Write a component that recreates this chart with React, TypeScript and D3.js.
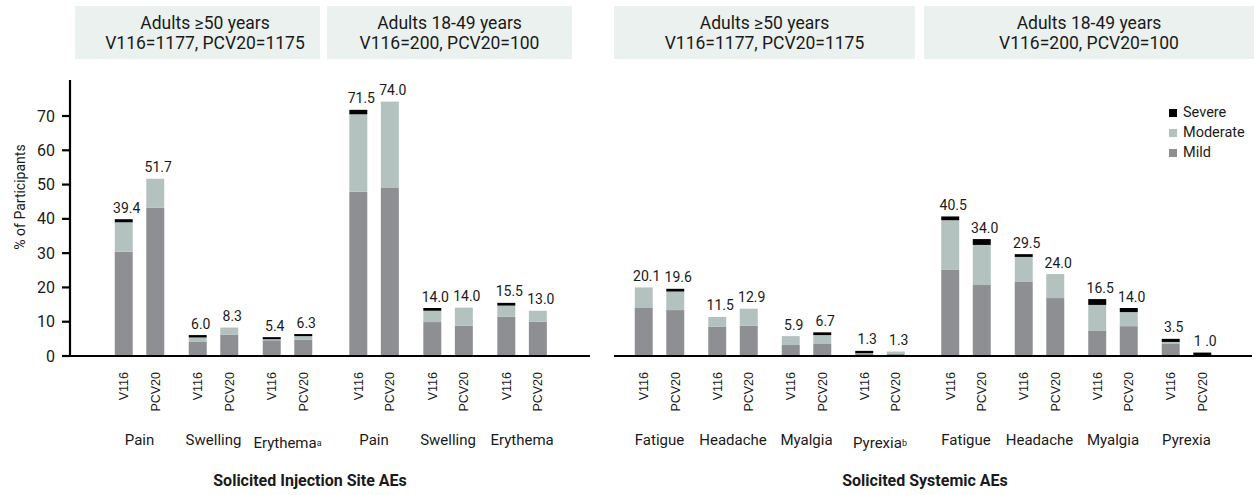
import React from "react";
import * as d3 from "d3";

const vaccines = ["V116", "PCV20"];
const severityKeys = ["mild", "moderate", "severe"];
const legendLabels = ["Severe", "Moderate", "Mild"];
const ageGroups = ["Adults \u226550 years", "Adults 18-49 years"];
const groupSizes = ["V116=1177, PCV20=1175", "V116=200, PCV20=100"];
const yTicks = [0, 10, 20, 30, 40, 50, 60, 70];

// order of values: age group -> category -> vaccine (V116, PCV20)
const injectionCategories = ["Pain", "Swelling", "Erythema"];
const injectionNotes = ["", "", "a", "", "", ""];
const injectionMild = [30.4, 43.2, 4.1, 6.2, 4.6, 4.8, 47.9, 49.0, 9.9, 8.8, 11.5, 10.0];
const injectionModerate = [8.6, 8.5, 1.3, 2.1, 0.3, 1.0, 22.6, 25.2, 3.3, 5.3, 3.2, 3.2];
const injectionSevere = [0.9, 0, 0.7, 0, 0.6, 0.6, 1.3, 0, 0.8, 0, 0.8, 0];
const injectionTotals = ["39.4", "51.7", "6.0", "8.3", "5.4", "6.3", "71.5", "74.0", "14.0", "14.0", "15.5", "13.0"];

const systemicCategories = ["Fatigue", "Headache", "Myalgia", "Pyrexia"];
const systemicNotes = ["", "", "", "b", "", "", "", ""];
const systemicMild = [14.0, 13.4, 8.5, 8.8, 3.2, 3.5, 0.7, 0.6, 25.1, 20.7, 21.6, 16.9, 7.3, 8.7, 3.5, 0];
const systemicModerate = [6.0, 5.4, 2.9, 5.0, 2.6, 2.6, 0.1, 0.7, 14.5, 11.7, 7.3, 7.0, 7.6, 4.1, 0.6, 0];
const systemicSevere = [0, 0.8, 0, 0, 0, 0.8, 0.7, 0, 1.1, 1.7, 0.8, 0, 1.7, 1.2, 0.9, 1.0];
const systemicTotals = ["20.1", "19.6", "11.5", "12.9", "5.9", "6.7", "1.3", "1.3", "40.5", "34.0", "29.5", "24.0", "16.5", "14.0", "3.5", "1 .0"];

const W = 1257;
const H = 495;
const font = "Roboto, 'Noto Sans', sans-serif";
const colors: Record<string, string> = { mild: "#8e8f93", moderate: "#b3c2be", severe: "#000000" };
const legendColors = ["#000000", "#b3c2be", "#8e8f93"];
const headerFill = "#ebf1ee";
const textColor = "#1a1a1a";

const y = d3.scaleLinear().domain([0, 70]).range([356, 116]);
const yAxisTop = 80.5;

const inner = d3.scaleBand().domain(vaccines).range([-24.75, 24.75]).paddingInner(0.43);

type PanelProps = {
  categories: string[];
  notes: string[];
  mild: number[];
  moderate: number[];
  severe: number[];
  totals: string[];
  x0: number;
  step: number;
  axisRange: [number, number];
  headers: { x: [number, number]; tx: number }[];
  title: string;
  titleX: number;
};

function Panel(p: PanelProps) {
  const nCat = p.categories.length;
  const gap = 0.17;
  const slot = d3.scaleLinear().domain([0, 1]).range([p.x0, p.x0 + p.step]);

  const rows: any[] = [];
  ageGroups.forEach((_, g) => {
    p.categories.forEach((cat, c) => {
      vaccines.forEach((v, vi) => {
        const i = (g * nCat + c) * 2 + vi;
        rows.push({
          g,
          c,
          vaccine: v,
          center: slot(c + g * (nCat + gap)),
          mild: p.mild[i],
          moderate: p.moderate[i],
          severe: p.severe[i],
          total: p.totals[i],
        });
      });
    });
  });

  const series = d3.stack().keys(severityKeys)(rows);
  const bw = inner.bandwidth();

  const pairs: { center: number; label: string; note: string }[] = [];
  ageGroups.forEach((_, g) => {
    p.categories.forEach((cat, c) => {
      pairs.push({ center: slot(c + g * (nCat + gap)), label: cat, note: p.notes[g * nCat + c] });
    });
  });

  return (
    <g>
      {p.headers.map((h, g) => (
        <g key={"h" + g}>
          <rect x={h.x[0]} y={6} width={h.x[1] - h.x[0]} height={53} fill={headerFill} />
          <text x={h.tx} y={29} textAnchor="middle" fontSize={17.5} fill={textColor}>
            {ageGroups[g]}
          </text>
          <text x={h.tx} y={49} textAnchor="middle" fontSize={17.5} fill={textColor}>
            {groupSizes[g]}
          </text>
        </g>
      ))}

      {series.map((s) => (
        <g key={s.key} fill={colors[s.key]}>
          {s.map((d, i) => {
            const r = rows[i];
            const h = y(d[0]) - y(d[1]);
            if (h <= 0) return null;
            return (
              <rect
                key={i}
                x={r.center + (inner(r.vaccine) as number)}
                y={y(d[1])}
                width={bw}
                height={h}
              />
            );
          })}
        </g>
      ))}

      {rows.map((r, i) => (
        <text
          key={"t" + i}
          x={r.center + (inner(r.vaccine) as number) + bw / 2 + 3}
          y={y(r.mild + r.moderate + r.severe) - 6.5}
          textAnchor="middle"
          fontSize={14}
          fill={textColor}
        >
          {r.total}
        </text>
      ))}

      <line x1={p.axisRange[0]} x2={p.axisRange[1]} y1={y(0)} y2={y(0)} stroke="#000" strokeWidth={2.2} />

      {rows.map((r, i) => (
        <text
          key={"v" + i}
          transform={`translate(${r.center + (inner(r.vaccine) as number) + bw / 2},372) rotate(-90)`}
          textAnchor="end"
          dy="0.35em"
          fontSize={12.5}
          fontFamily="'Liberation Sans', Arial, sans-serif"
          fill={textColor}
        >
          {r.vaccine}
        </text>
      ))}

      {pairs.map((c, i) => (
        <text
          key={"c" + i}
          x={c.center}
          y={c.note ? 448 : 445}
          textAnchor="middle"
          fontSize={15}
          fill={textColor}
        >
          {c.label}
          {c.note ? (
            <tspan fontSize={9} dy={-2}>
              {c.note}
            </tspan>
          ) : null}
        </text>
      ))}

      <text x={p.titleX} y={486} textAnchor="middle" fontSize={16} fontWeight="bold" fill={textColor}>
        {p.title}
      </text>
    </g>
  );
}

export default function App() {
  return (
    <div style={{ position: "absolute", left: 0, top: 0 }}>
      <svg width={W} height={H} style={{ display: "block", fontFamily: font, background: "#fff" }}>
        {/* y axis */}
        <line x1={70} x2={70} y1={y(yAxisTop)} y2={y(0) + 1} stroke="#000" strokeWidth={2.2} />
        {yTicks.map((t) => (
          <g key={t}>
            <line x1={62} x2={70} y1={y(t)} y2={y(t)} stroke="#000" strokeWidth={2.2} />
            <text x={55} y={y(t)} dy="0.35em" textAnchor="end" fontSize={16} fill={textColor}>
              {t}
            </text>
          </g>
        ))}
        <text
          transform={`translate(20,197) rotate(-90)`}
          textAnchor="middle"
          dy="0.35em"
          fontSize={14}
          fill={textColor}
        >
          % of Participants
        </text>

        <Panel
          categories={injectionCategories}
          notes={injectionNotes}
          mild={injectionMild}
          moderate={injectionModerate}
          severe={injectionSevere}
          totals={injectionTotals}
          x0={139.5}
          step={74}
          axisRange={[70, 590]}
          headers={[
            { x: [75, 320], tx: 205 },
            { x: [327, 572], tx: 449.5 },
          ]}
          title="Solicited Injection Site AEs"
          titleX={310}
        />
        <Panel
          categories={systemicCategories}
          notes={systemicNotes}
          mild={systemicMild}
          moderate={systemicModerate}
          severe={systemicSevere}
          totals={systemicTotals}
          x0={659.5}
          step={73.5}
          axisRange={[614, 1252]}
          headers={[
            { x: [614, 915], tx: 764.5 },
            { x: [924, 1254], tx: 1089 },
          ]}
          title="Solicited Systemic AEs"
          titleX={925}
        />

        {/* legend */}
        {legendLabels.map((l, i) => (
          <g key={l} transform={`translate(1169,${109 + i * 20})`}>
            <rect width={8} height={8} fill={legendColors[i]} />
            <text x={14} y={8} fontSize={14.5} fill={textColor}>
              {l}
            </text>
          </g>
        ))}
      </svg>
    </div>
  );
}
